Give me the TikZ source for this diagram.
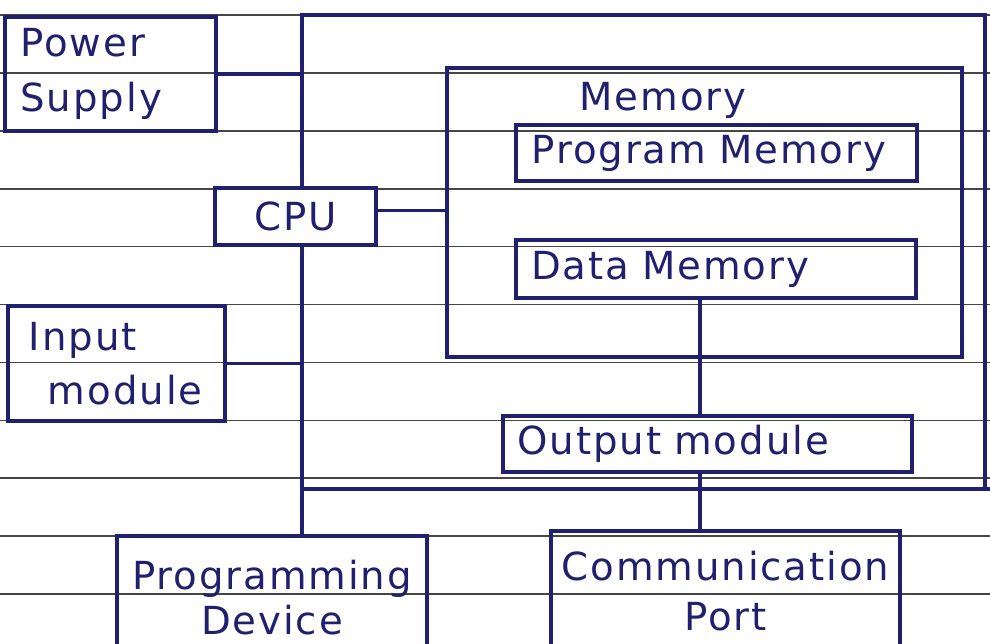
\documentclass[tikz,border=0pt]{standalone}
\usepackage{fontspec}
\newfontfamily\hand[LetterSpace=5]{DejaVu Sans}
\definecolor{ink}{RGB}{32,32,110}
\definecolor{paperline}{RGB}{70,70,70}
\begin{document}
\begin{tikzpicture}[
		blok/.style={draw=ink, line width=0.9pt, inner sep=0pt, text=ink, font=\hand\fontsize{11}{15.5}\selectfont},
		lbl/.style={text=ink, font=\hand\fontsize{11}{15.5}\selectfont},
		wire/.style={draw=ink, line width=0.9pt}
	]
		\useasboundingbox (0,0) rectangle (9.9,-6.43);
		\clip (0,0) rectangle (9.9,-6.43);
		% ruled paper
		\foreach \k in {0,...,10}
			\draw[paperline, line width=0.45pt] (0,-0.15-0.579*\k) -- (9.9,-0.15-0.579*\k);
		% blocks
		\node[blok, minimum width=2.11cm, minimum height=1.14cm, text width=1.8cm, align=left] (psu) at (1.105,-0.74) {Power\\Supply};
		\node[blok, minimum width=1.61cm, minimum height=0.57cm] (cpu) at (2.955,-2.165) {CPU};
		\node[blok, minimum width=5.15cm, minimum height=2.89cm] (mem) at (7.045,-2.125) {};
		\node[lbl] (memlbl) at (6.63,-1.0) {Memory};
		\node[blok, minimum width=4.01cm, minimum height=0.56cm, text width=3.7cm, align=left] (pmem) at (7.165,-1.53) {Program Memory};
		\node[blok, minimum width=4.0cm, minimum height=0.58cm, text width=3.7cm, align=left] (dmem) at (7.16,-2.69) {Data Memory};
		\node[blok, minimum width=2.17cm, minimum height=1.15cm, text width=1.75cm, align=left] (inp) at (1.165,-3.635) {Input\\\hspace{0.19cm}module};
		\node[blok, minimum width=4.09cm, minimum height=0.56cm, text width=3.8cm, align=left] (out) at (7.075,-4.44) {Output module};
		\node[blok, minimum width=3.1cm, minimum height=1.23cm, align=center, font=\hand\fontsize{11}{13}\selectfont] (prog) at (2.72,-5.975) {Programming\\Device};
		\node[blok, minimum width=3.49cm, minimum height=1.2cm, align=center, font=\hand\fontsize{11}{14}\selectfont] (comm) at (7.255,-5.91) {Communication\\Port};
		% bus lines
		\coordinate (spine) at (3.02,-0.15);
		\coordinate (corner) at (9.85,-0.15);
		\coordinate (busend) at (9.9,-4.89);
		\coordinate (drop) at (7.0,0);
		\draw[wire] (psu.east) -- (psu.east -| spine);
		\draw[wire] (cpu.north -| spine) -- (spine) -- (corner) -- (corner |- busend);
		\draw[wire] (busend) -- (busend -| spine);
		\draw[wire] (cpu.south -| spine) -- (prog.north -| spine);
		\draw[wire] (inp.east) -- (inp.east -| spine);
		\draw[wire] ([yshift=0.06cm]cpu.east) -- ([yshift=0.06cm]cpu.east -| mem.west);
		\draw[wire] (dmem.south -| drop) -- (out.north -| drop);
		\draw[wire] (out.south -| drop) -- (comm.north -| drop);
	\end{tikzpicture}
\end{document}
